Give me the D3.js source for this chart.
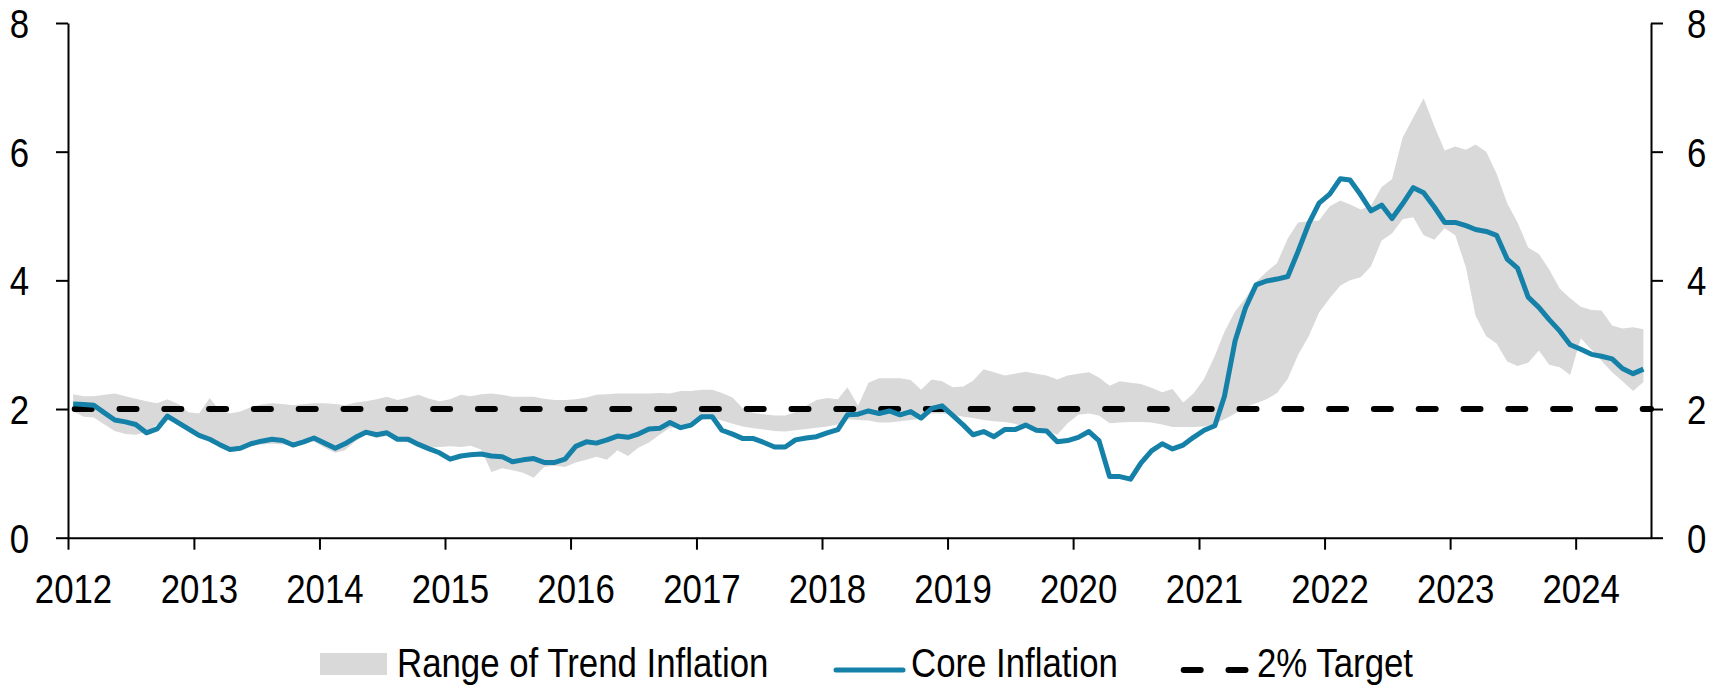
<!DOCTYPE html>
<html>
<head>
<meta charset="utf-8">
<script src="https://cdn.jsdelivr.net/npm/d3@7"></script>
<style>
  body { margin: 0; background: #fff; }
  text { font-family: "Liberation Sans", Arial, sans-serif; fill: #000; }
</style>
</head>
<body>
<div id="chart"></div>
<script>
// monthly readings, Jan 2012 .. Jul 2024
const startYear = 2012;

const core = [
  2.08,2.07,2.06,1.94,1.83,1.80,1.76,1.63,1.69,1.89,1.79,1.69,
  1.59,1.53,1.45,1.37,1.39,1.46,1.50,1.53,1.51,1.44,1.49,1.55,
  1.47,1.39,1.46,1.56,1.64,1.60,1.63,1.53,1.53,1.45,1.38,1.32,
  1.22,1.27,1.29,1.30,1.27,1.26,1.18,1.21,1.23,1.17,1.17,1.22,
  1.42,1.49,1.47,1.52,1.58,1.56,1.61,1.69,1.70,1.79,1.71,1.75,
  1.88,1.88,1.67,1.61,1.54,1.54,1.48,1.41,1.41,1.52,1.55,1.57,
  1.63,1.68,1.91,1.92,1.97,1.93,1.97,1.91,1.96,1.86,2.01,2.05,
  1.90,1.75,1.60,1.65,1.57,1.68,1.68,1.75,1.67,1.66,1.49,1.51,
  1.56,1.65,1.51,0.95,0.95,0.91,1.16,1.35,1.46,1.38,1.44,1.56,
  1.67,1.74,2.20,3.06,3.57,3.93,3.99,4.02,4.06,4.45,4.88,5.20,
  5.34,5.58,5.56,5.33,5.08,5.17,4.96,5.19,5.44,5.36,5.14,4.90,
  4.90,4.85,4.79,4.76,4.70,4.33,4.19,3.74,3.58,3.39,3.21,3.00,
  2.93,2.85,2.82,2.78,2.63,2.55,2.62
];

const bandHigh = [
  2.23,2.20,2.20,2.22,2.24,2.20,2.16,2.12,2.09,2.15,2.08,1.95,
  1.93,2.17,1.98,1.93,1.96,2.03,2.07,2.09,2.08,2.06,2.08,2.09,
  2.09,2.08,2.06,2.10,2.12,2.15,2.19,2.14,2.18,2.22,2.16,2.12,
  2.15,2.22,2.20,2.23,2.24,2.22,2.19,2.19,2.19,2.16,2.14,2.14,
  2.15,2.18,2.22,2.23,2.24,2.24,2.24,2.24,2.25,2.24,2.28,2.28,
  2.30,2.30,2.25,2.18,2.01,1.94,1.92,1.90,1.90,1.95,2.05,2.14,
  2.17,2.15,2.34,2.05,2.41,2.48,2.48,2.48,2.45,2.30,2.46,2.43,
  2.34,2.35,2.44,2.62,2.57,2.52,2.55,2.58,2.55,2.52,2.46,2.52,
  2.55,2.57,2.49,2.36,2.43,2.41,2.39,2.33,2.26,2.31,2.10,2.24,
  2.47,2.83,3.20,3.52,3.72,3.98,4.13,4.27,4.65,4.90,4.92,4.93,
  5.15,5.24,5.18,5.10,5.16,5.45,5.57,6.22,6.53,6.83,6.40,6.02,
  6.08,6.03,6.11,6.00,5.66,5.20,4.90,4.51,4.41,4.17,3.87,3.72,
  3.59,3.54,3.53,3.30,3.25,3.27,3.24
];

const bandLow = [
  1.96,1.88,1.87,1.76,1.66,1.61,1.60,1.64,1.76,1.83,1.78,1.70,
  1.59,1.52,1.44,1.35,1.38,1.42,1.45,1.46,1.45,1.44,1.47,1.49,
  1.40,1.32,1.36,1.50,1.60,1.55,1.58,1.52,1.48,1.45,1.40,1.41,
  1.42,1.41,1.43,1.37,1.02,1.08,1.05,1.01,0.93,1.10,1.12,1.10,
  1.17,1.21,1.26,1.21,1.36,1.27,1.40,1.48,1.60,1.71,1.71,1.78,
  1.83,1.87,1.82,1.77,1.73,1.70,1.68,1.66,1.65,1.67,1.69,1.71,
  1.73,1.76,1.84,1.83,1.82,1.79,1.79,1.81,1.83,1.85,1.93,1.93,
  1.91,1.88,1.86,1.83,1.81,1.80,1.77,1.70,1.70,1.67,1.60,1.78,
  1.91,1.93,1.90,1.78,1.79,1.80,1.80,1.79,1.76,1.72,1.72,1.72,
  1.73,1.77,1.84,1.93,2.03,2.09,2.15,2.25,2.47,2.84,3.13,3.50,
  3.72,3.92,4.00,4.05,4.22,4.62,4.73,4.95,4.98,4.70,4.63,4.81,
  4.70,4.20,3.45,3.13,3.02,2.74,2.67,2.72,2.91,2.69,2.65,2.53,
  3.10,2.92,2.75,2.57,2.43,2.28,2.42
];

const target = 2;
const yTicks = [0, 2, 4, 6, 8];
const yearTicks = [2012,2013,2014,2015,2016,2017,2018,2019,2020,2021,2022,2023,2024];
const legendLabels = ["Range of Trend Inflation", "Core Inflation", "2% Target"];

function main(){
    let width = 1723;
    let height = 688;
    const blue = "#1580a8";
    const grey = "#d9d9d9";
    const squeeze = 0.87;   // narrow font look
    const dash = "17,27.8";

    let svg = d3.select("#chart").append("svg")
        .attr("width", width)
        .attr("height", height);

    let x = d3.scaleTime()
        .domain([new Date(2012, 0, 1), new Date(2024, 7, 7)])
        .range([68, 1651]);
    let y = d3.scaleLinear().domain([0, 8]).range([537.7, 23]);

    const rows = core.map(function(d, i){
        return {date: new Date(startYear, i, 16), core: d, hi: bandHigh[i], lo: bandLow[i]};
    });

    let area = d3.area()
        .x(d => x(d.date))
        .y0(d => y(d.lo))
        .y1(d => y(d.hi));

    svg.append("path")
        .datum(rows)
        .attr("d", area)
        .style("fill", grey);

    svg.append("line")
        .attr("x1", x.range()[0]).attr("x2", x.range()[1])
        .attr("y1", y(target)).attr("y2", y(target))
        .style("stroke", "#000")
        .style("stroke-width", 6)
        .style("stroke-linecap", "round")
        .style("stroke-dasharray", dash)
        .style("stroke-dashoffset", -6.7);

    let line = d3.line()
        .x(d => x(d.date))
        .y(d => y(d.core));

    svg.append("path")
        .datum(rows)
        .attr("d", line)
        .style("fill", "none")
        .style("stroke", blue)
        .style("stroke-width", 5)
        .style("stroke-linejoin", "round");

    // axes
    let xAxis = d3.axisBottom(x)
        .tickValues(yearTicks.map(yr => new Date(yr, 0, 1)))
        .tickFormat(d3.timeFormat("%Y"))
        .tickSize(12)
        .tickSizeOuter(0);

    let gx = svg.append("g")
        .attr("transform", "translate(0," + y(0) + ")")
        .call(xAxis);
    gx.selectAll("text")
        .attr("y", 65.5).attr("dy", 0).attr("x", 5 / squeeze)
        .attr("transform", "scale(" + squeeze + ",1)");

    let gl = svg.append("g")
        .attr("transform", "translate(" + x.range()[0] + ",0)")
        .call(d3.axisLeft(y).tickValues(yTicks).tickSize(12).tickSizeOuter(0));
    gl.selectAll("text")
        .attr("x", -39 / squeeze).attr("dy", "0.36em")
        .attr("transform", "scale(" + squeeze + ",1)");

    let gr = svg.append("g")
        .attr("transform", "translate(" + x.range()[1] + ",0)")
        .call(d3.axisRight(y).tickValues(yTicks).tickSize(12).tickSizeOuter(0));
    gr.selectAll("text")
        .attr("x", 36 / squeeze).attr("dy", "0.36em")
        .attr("transform", "scale(" + squeeze + ",1)");

    svg.selectAll(".domain, .tick line")
        .style("stroke", "#000")
        .style("stroke-width", 2);
    svg.selectAll(".tick text")
        .style("font-size", "40px")
        .style("font-family", "'Liberation Sans', Arial, sans-serif");

    // legend
    let legend = svg.append("g").attr("id", "legend");

    legend.append("rect")
        .attr("x", 320).attr("y", 653)
        .attr("width", 67).attr("height", 22)
        .style("fill", grey);

    legend.append("line")
        .attr("x1", 836).attr("x2", 903)
        .attr("y1", 670).attr("y2", 670)
        .style("stroke", blue)
        .style("stroke-width", 5)
        .style("stroke-linecap", "round");

    legend.append("line")
        .attr("x1", 1183.7).attr("x2", 1246.7)
        .attr("y1", 670).attr("y2", 670)
        .style("stroke", "#000")
        .style("stroke-width", 6)
        .style("stroke-linecap", "round")
        .style("stroke-dasharray", dash);

    const legendX = [397, 911, 1257];
    legend.selectAll("text")
        .data(legendLabels)
        .enter()
        .append("text")
        .attr("transform", (d, i) => "translate(" + legendX[i] + ",677) scale(" + squeeze + ",1)")
        .style("font-size", "40px")
        .text(d => d);
}

main();
</script>
</body>
</html>
